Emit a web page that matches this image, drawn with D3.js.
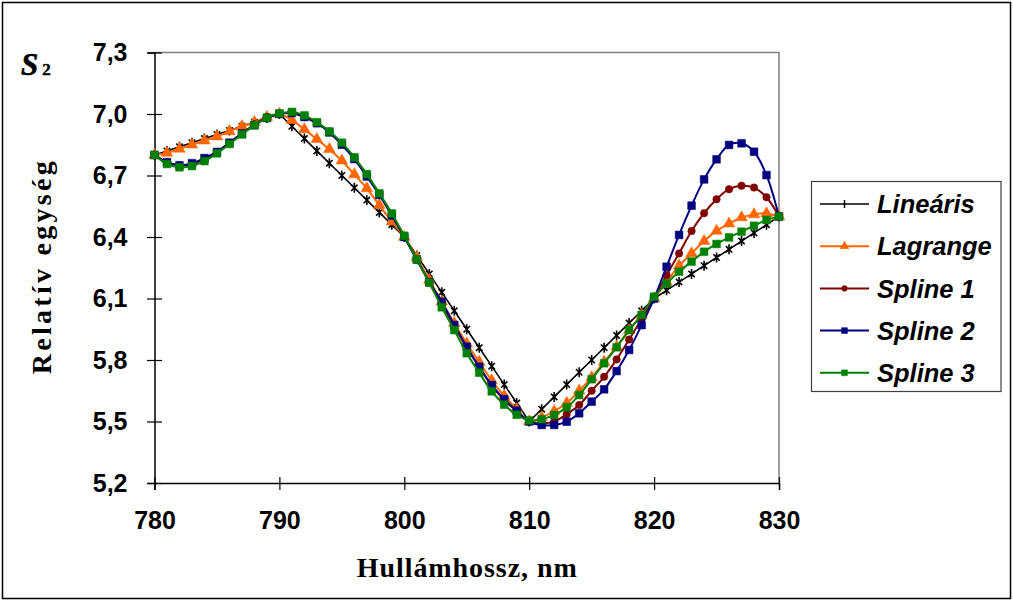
<!DOCTYPE html>
<html>
<head>
<meta charset="utf-8">
<script src="https://cdn.jsdelivr.net/npm/d3@7"></script>
<style>
  body { margin: 0; background: #fff; }
  svg { display: block; }
</style>
</head>
<body>
<div id="chart"></div>
<script>
// hullámhossz (nm) – minden pont 1 nm-enként
const wavelength = [780,781,782,783,784,785,786,787,788,789,790,
  791,792,793,794,795,796,797,798,799,800,
  801,802,803,804,805,806,807,808,809,810,
  811,812,813,814,815,816,817,818,819,820,
  821,822,823,824,825,826,827,828,829,830];

const linearis = [6.80,6.82,6.84,6.86,6.88,6.90,6.92,6.94,6.96,6.98,7.00,
  6.94,6.88,6.82,6.76,6.70,6.64,6.58,6.52,6.46,6.40,
  6.31,6.22,6.13,6.04,5.95,5.86,5.77,5.68,5.59,5.50,
  5.56,5.62,5.68,5.74,5.80,5.86,5.92,5.98,6.04,6.10,
  6.14,6.18,6.22,6.26,6.30,6.34,6.38,6.42,6.46,6.50];

const lagrange = [6.80,6.81,6.83,6.85,6.87,6.89,6.915,6.94,6.96,6.985,7.00,
  6.97,6.925,6.877,6.828,6.772,6.705,6.637,6.555,6.475,6.40,
  6.30,6.19,6.085,5.98,5.88,5.79,5.70,5.625,5.56,5.50,
  5.52,5.55,5.59,5.65,5.715,5.79,5.865,5.945,6.02,6.10,
  6.18,6.26,6.32,6.38,6.43,6.465,6.495,6.51,6.515,6.50];

const spline1 = [6.80,6.765,6.75,6.755,6.78,6.815,6.86,6.905,6.95,6.985,7.00,
  7.005,6.985,6.955,6.915,6.855,6.785,6.70,6.61,6.51,6.40,
  6.29,6.18,6.075,5.965,5.86,5.765,5.675,5.605,5.55,5.50,
  5.49,5.50,5.535,5.58,5.65,5.718,5.803,5.90,6.00,6.10,
  6.215,6.32,6.429,6.516,6.584,6.633,6.65,6.641,6.594,6.50];

const spline2 = [6.80,6.765,6.75,6.76,6.785,6.815,6.86,6.905,6.945,6.98,7.00,
  7.005,6.985,6.955,6.91,6.85,6.78,6.695,6.605,6.505,6.40,
  6.29,6.18,6.084,5.971,5.865,5.767,5.678,5.609,5.553,5.50,
  5.483,5.483,5.499,5.54,5.597,5.657,5.746,5.849,5.97,6.10,
  6.255,6.41,6.553,6.681,6.779,6.849,6.857,6.816,6.702,6.50];

const spline3 = [6.80,6.756,6.74,6.746,6.77,6.808,6.854,6.90,6.946,6.982,7.003,
  7.01,6.993,6.96,6.915,6.86,6.789,6.707,6.613,6.515,6.406,
  6.291,6.177,6.057,5.946,5.833,5.738,5.647,5.582,5.533,5.505,
  5.511,5.532,5.569,5.629,5.706,5.784,5.862,5.946,6.02,6.109,
  6.174,6.231,6.28,6.328,6.366,6.398,6.426,6.455,6.483,6.50];

const xTicks = [780,790,800,810,820,830];
const yTicks = [5.2,5.5,5.8,6.1,6.4,6.7,7.0,7.3];

const seriesNames = ["Lineáris","Lagrange","Spline 1","Spline 2","Spline 3"];
const seriesValues = [linearis, lagrange, spline1, spline2, spline3];
const seriesColors = ["#000000","#FF6600","#800000","#000080","#008000"];
const seriesMarkers = ["star","triangle","circle","square","square"];

const width = 1013, height = 601;
const plot = { left: 154.5, right: 779, top: 52.5, bottom: 483 };

const svg = d3.select("#chart").append("svg")
  .attr("width", width)
  .attr("height", height);

// külső keret
svg.append("rect")
  .attr("x", 2.5).attr("y", 2.5)
  .attr("width", width - 5).attr("height", height - 5)
  .attr("fill", "none")
  .attr("stroke", "#000")
  .attr("stroke-width", 1.5);

const x = d3.scaleLinear().domain([780, 830]).range([plot.left, plot.right]);
const y = d3.scaleLinear().domain([5.2, 7.3]).range([plot.bottom, plot.top]);

// plot area szürke keret (felül és jobbra)
svg.append("path")
  .attr("d", `M${plot.left},${plot.top}H${plot.right}V${plot.bottom}`)
  .attr("fill", "none")
  .attr("stroke", "#808080")
  .attr("stroke-width", 1.5);

const fmt = d => d3.format(".1f")(d).replace(".", ",");

const xAxis = svg.append("g")
  .attr("transform", `translate(0,${plot.bottom})`)
  .call(d3.axisBottom(x).tickValues(xTicks).tickSizeOuter(0).tickSize(7).tickPadding(21).tickFormat(d3.format("d")));

const yAxis = svg.append("g")
  .attr("transform", `translate(${plot.left},0)`)
  .call(d3.axisLeft(y).tickValues(yTicks).tickSizeOuter(0).tickSize(7).tickPadding(20).tickFormat(fmt));

// tick vonalak átnyúlnak a tengelyen
xAxis.selectAll(".tick line").attr("y1", -6).attr("y2", 7);
yAxis.selectAll(".tick line").attr("x1", 7.5).attr("x2", -7.5);

[xAxis, yAxis].forEach(a => {
  a.select(".domain").attr("stroke", "#000").attr("stroke-width", 1.5);
  a.selectAll(".tick line").attr("stroke", "#000").attr("stroke-width", 1.2);
  a.selectAll("text")
    .attr("fill", "#000")
    .style("font-family", "'Liberation Sans', Arial, sans-serif")
    .style("font-weight", "bold")
    .style("font-size", "25px");
});

// tengelyfeliratok
svg.append("text")
  .attr("x", (plot.left + plot.right) / 2)
  .attr("y", 577)
  .attr("text-anchor", "middle")
  .attr("textLength", 220)
  .attr("lengthAdjust", "spacing")
  .style("font-family", "'Liberation Serif', 'Times New Roman', serif")
  .style("font-weight", "bold")
  .style("font-size", "28px")
  .text("Hullámhossz, nm");

svg.append("text")
  .attr("transform", `translate(51,${(plot.top + plot.bottom) / 2}) rotate(-90)`)
  .attr("text-anchor", "middle")
  .attr("textLength", 213)
  .attr("lengthAdjust", "spacing")
  .style("font-family", "'Liberation Serif', 'Times New Roman', serif")
  .style("font-weight", "bold")
  .style("font-size", "28px")
  .text("Relatív egység");

const s2 = svg.append("text")
  .attr("x", 21)
  .attr("y", 75)
  .style("font-family", "'Liberation Serif', 'Times New Roman', serif")
  .style("font-weight", "bold");
s2.append("tspan").style("font-style", "italic").style("font-weight", "bold")
  .style("font-size", "31px").attr("stroke", "#000").attr("stroke-width", 0.6).text("S");
s2.append("tspan").attr("dx", 4).style("font-weight", "bold")
  .style("font-size", "17px").attr("stroke", "#000").attr("stroke-width", 0.4).text("2");

// markerek
function drawMarker(g, type, color, scale) {
  if (type === "star") {
    const r = 3.2 * scale;
    g.append("path")
      .attr("d", `M${-r},${-r}L${r},${r}M${-r},${r}L${r},${-r}M0,${-5 * scale}L0,${5 * scale}`)
      .attr("stroke", color)
      .attr("stroke-width", 1.6)
      .attr("fill", "none");
  } else if (type === "plus") {
    g.append("path")
      .attr("d", `M0,-4L0,4`)
      .attr("stroke", color)
      .attr("stroke-width", 1.5);
  } else {
    const sym = type === "triangle" ? d3.symbolTriangle : type === "circle" ? d3.symbolCircle : d3.symbolSquare;
    const size = type === "triangle" ? 58 : type === "circle" ? 44 : 60;
    g.append("path")
      .attr("d", d3.symbol().type(sym).size(size * scale * scale)())
      .attr("fill", color)
      .attr("stroke", color)
      .attr("stroke-width", 0.5);
  }
}

const lineGen = d3.line()
  .x(d => x(d[0]))
  .y(d => y(d[1]));

seriesValues.forEach((vals, i) => {
  const pts = wavelength.map((w, j) => [w, vals[j]]);
  const g = svg.append("g");
  g.append("path")
    .datum(pts)
    .attr("d", lineGen.curve(i === 0 ? d3.curveLinear : d3.curveCatmullRom.alpha(0.5)))
    .attr("fill", "none")
    .attr("stroke", seriesColors[i])
    .attr("stroke-width", i === 0 ? 1.6 : 2);

  g.selectAll("g.marker")
    .data(pts)
    .enter()
      .append("g")
      .attr("class", "marker")
      .attr("transform", d => `translate(${x(d[0])},${y(d[1])})`)
      .each(function () { drawMarker(d3.select(this), seriesMarkers[i], seriesColors[i], 1); });
});

// jelmagyarázat
const legend = svg.append("g");
legend.append("rect")
  .attr("x", 811.5).attr("y", 181.5)
  .attr("width", 189.5).attr("height", 210)
  .attr("fill", "#fff")
  .attr("stroke", "#404040")
  .attr("stroke-width", 1.2);

seriesNames.forEach((name, i) => {
  const ly = 204 + i * 42.2;
  const row = legend.append("g").attr("transform", `translate(0,${ly})`);
  row.append("line")
    .attr("x1", 820).attr("x2", 869)
    .attr("stroke", seriesColors[i])
    .attr("stroke-width", i === 0 ? 1.6 : 2);
  const m = row.append("g").attr("transform", "translate(844.5,0)");
  drawMarker(m, i === 0 ? "plus" : seriesMarkers[i], seriesColors[i], 0.75);
  row.append("text")
    .attr("x", 877)
    .attr("dy", "0.36em")
    .style("font-family", "'Liberation Sans', Arial, sans-serif")
    .style("font-weight", "bold")
    .style("font-style", "italic")
    .style("font-size", "25.5px")
    .text(name);
});
</script>
</body>
</html>
